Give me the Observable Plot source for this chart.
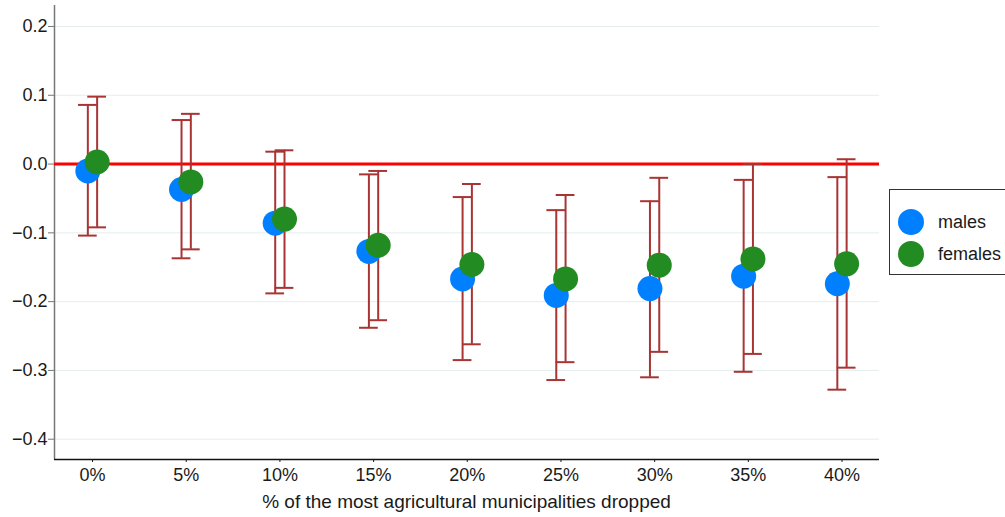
<!DOCTYPE html>
<html>
<head>
<meta charset="utf-8">
<script src="https://cdn.jsdelivr.net/npm/d3@7"></script>
<script src="https://cdn.jsdelivr.net/npm/@observablehq/plot@0.6"></script>
<style>
  html, body { margin: 0; padding: 0; background: #fff; overflow: hidden; width: 1005px; height: 517px; }
  #wrap { position: relative; width: 1005px; height: 517px; font-family: "Liberation Sans", Arial, sans-serif; }
  #wrap svg text { font-size: 18px; fill: #1a1a1a; }
  #legend { position: absolute; left: 889px; top: 189px; width: 140px; height: 86px; border: 1px solid #333; box-sizing: border-box; background: #fff; }
  .item { position: absolute; left: 8px; display: flex; align-items: center; font-size: 18px; color: #1a1a1a; }
  .sw { width: 26px; height: 26px; border-radius: 50%; margin-right: 14px; }
  #xlabel { position: absolute; left: 54px; width: 825px; top: 492px; line-height: 20px; text-align: center; font-size: 19px; color: #1a1a1a; white-space: nowrap; }
</style>
</head>
<body>
<div id="wrap"></div>
<script>
const pct = [0, 5, 10, 15, 20, 25, 30, 35, 40];
const maleEst = [-0.010, -0.037, -0.086, -0.127, -0.167, -0.191, -0.181, -0.163, -0.174];
const maleLo  = [-0.104, -0.137, -0.188, -0.238, -0.285, -0.314, -0.310, -0.302, -0.328];
const maleHi  = [0.086, 0.064, 0.018, -0.015, -0.048, -0.067, -0.054, -0.023, -0.019];
const femEst  = [0.003, -0.026, -0.080, -0.118, -0.146, -0.167, -0.147, -0.138, -0.145];
const femLo   = [-0.092, -0.124, -0.180, -0.227, -0.262, -0.288, -0.273, -0.276, -0.296];
const femHi   = [0.098, 0.073, 0.020, -0.010, -0.029, -0.045, -0.020, 0.000, 0.007];
const seriesNames = ["males", "females"];
const seriesColors = ["#0080ff", "#228b22"];
const yTicks = [-0.4, -0.3, -0.2, -0.1, 0.0, 0.1, 0.2];
const xLabel = "% of the most agricultural municipalities dropped";

const males = pct.map((p, i) => ({x: p, est: maleEst[i], lo: maleLo[i], hi: maleHi[i]}));
const females = pct.map((p, i) => ({x: p, est: femEst[i], lo: femLo[i], hi: femHi[i]}));

const xDomain = [-2.03, 42.0];
const yDomain = [-0.4295, 0.2305];
const cap = 0.5;
const barColor = "#a83434";

function bars(data, dx) {
  return [
    Plot.ruleX(data, {x: "x", y1: "lo", y2: "hi", dx, stroke: barColor, strokeWidth: 2}),
    Plot.ruleY(data, {y: "hi", x1: d => d.x - cap, x2: d => d.x + cap, dx, stroke: barColor, strokeWidth: 2}),
    Plot.ruleY(data, {y: "lo", x1: d => d.x - cap, x2: d => d.x + cap, dx, stroke: barColor, strokeWidth: 2})
  ];
}

const chart = Plot.plot({
  width: 1005,
  height: 517,
  marginLeft: 54,
  marginRight: 126,
  marginTop: 5,
  marginBottom: 58,
  style: {fontFamily: "'Liberation Sans', Arial, sans-serif", fontSize: "18px", color: "#1a1a1a", background: "#fff"},
  x: {domain: xDomain},
  y: {domain: yDomain},
  marks: [
    Plot.gridY(yTicks, {stroke: "#e4eeee", strokeOpacity: 1}),
    Plot.ruleX([xDomain[0]], {stroke: "#777", strokeWidth: 1.5}),
    Plot.ruleY([yDomain[0]], {stroke: "#111", strokeWidth: 1.5}),
    Plot.axisY(yTicks, {tickFormat: d3.format(".1f"), tickSize: 6, tickPadding: 1, stroke: "#777", label: null}),
    Plot.axisX(pct, {tickFormat: d => d + "%", tickSize: 3, tickPadding: 6, label: null}),
    Plot.ruleY([0], {stroke: "#ff0000", strokeWidth: 3}),
    ...bars(males, -4.7),
    ...bars(females, 4.6),
    Plot.dot(males, {x: "x", y: "est", dx: -4.7, r: 12.5, fill: seriesColors[0], stroke: null}),
    Plot.dot(females, {x: "x", y: "est", dx: 4.6, r: 12.5, fill: seriesColors[1], stroke: null})
  ]
});
const wrap = document.getElementById("wrap");
wrap.appendChild(chart);

const xl = document.createElement("div");
xl.id = "xlabel";
xl.textContent = xLabel;
wrap.appendChild(xl);

const legend = document.createElement("div");
legend.id = "legend";
seriesNames.forEach((name, i) => {
  const item = document.createElement("div");
  item.className = "item";
  item.style.top = (i === 0 ? 19 : 51) + "px";
  const sw = document.createElement("span");
  sw.className = "sw";
  sw.style.background = seriesColors[i];
  const t = document.createElement("span");
  t.textContent = name;
  item.appendChild(sw);
  item.appendChild(t);
  legend.appendChild(item);
});
wrap.appendChild(legend);
</script>
</body>
</html>
